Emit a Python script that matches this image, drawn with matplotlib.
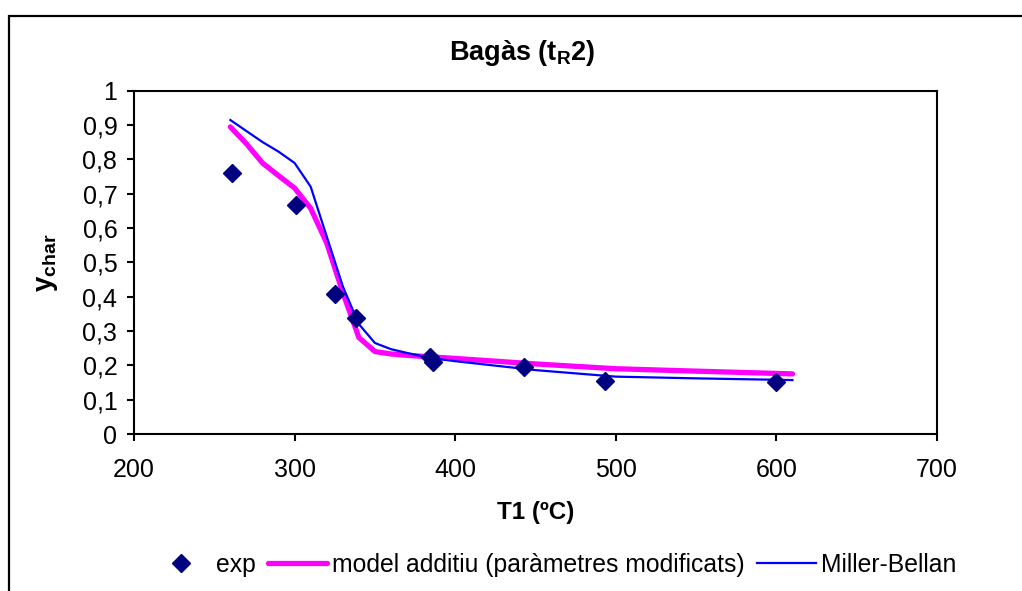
import numpy as np
import matplotlib
matplotlib.use('Agg')
import matplotlib.pyplot as plt
from matplotlib.patches import Rectangle
from matplotlib.ticker import FuncFormatter

plt.rcParams['font.family'] = ['Liberation Sans', 'DejaVu Sans']
plt.rcParams['mathtext.fontset'] = 'custom'
plt.rcParams['mathtext.rm'] = 'Liberation Sans'
plt.rcParams['mathtext.bf'] = 'Liberation Sans:bold'

# ---- data ----
T_exp = [261, 301, 325, 338, 384, 386, 443, 493, 600]
y_exp = [0.760, 0.667, 0.408, 0.338, 0.224, 0.210, 0.195, 0.154, 0.151]

T_add = [260, 270, 280, 290, 300, 310, 320, 330, 340, 350, 360, 370, 380,
         400, 450, 500, 550, 610]
y_add = [0.894, 0.845, 0.789, 0.752, 0.716, 0.657, 0.556, 0.412, 0.281,
         0.240, 0.233, 0.229, 0.226, 0.220, 0.204, 0.190, 0.183, 0.175]

T_mb = [260, 270, 280, 290, 300, 310, 320, 330, 340, 350, 360, 370, 380,
        390, 400, 450, 500, 550, 610]
y_mb = [0.914, 0.882, 0.850, 0.822, 0.789, 0.720, 0.575, 0.430, 0.320,
        0.265, 0.247, 0.236, 0.226, 0.218, 0.212, 0.186, 0.167, 0.162, 0.157]

W, H = 1022, 591
fig = plt.figure(figsize=(W / 100, H / 100), dpi=100)
fig.patch.set_facecolor('white')

# outer chart frame (cut off at right and bottom)
fig.add_artist(Rectangle((9 / W, -0.05), 1.1, (H - 16) / H + 0.05,
                         transform=fig.transFigure, fill=False,
                         edgecolor='black', linewidth=1.6, clip_on=False))

ax = fig.add_axes([134 / W, 1 - 434 / H, (937 - 134) / W, (434 - 90.5) / H])

ax.plot(T_exp, y_exp, linestyle='none', marker='D', markersize=9,
        color='#000080', label='exp', zorder=4)
ax.plot(T_add, y_add, color='#FF00FF', linewidth=3.8,
        solid_capstyle='round', label='model additiu (paràmetres modificats)')
ax.plot(T_mb, y_mb, color='#0000FF', linewidth=1.6, label='Miller-Bellan')

ax.set_xlim(200, 700)
ax.set_ylim(0, 1)
ax.set_xticks(range(200, 701, 100))
ax.set_yticks(np.arange(0, 1.01, 0.1))
ax.yaxis.set_major_formatter(FuncFormatter(lambda v, p: f'{round(v, 1):g}'.replace('.', ',')))
ax.tick_params(direction='out', length=5, width=1.5, labelsize=18)
ax.tick_params(axis='x', pad=12)
ax.tick_params(axis='y', pad=7)
for s in ax.spines.values():
    s.set_linewidth(1.5)

ax.set_xlabel('T1 (ºC)', fontsize=17.5, fontweight='bold', labelpad=14)
ax.set_ylabel(r'y$_\mathbf{char}$', fontsize=20, fontweight='bold', labelpad=16)

fig.text(522 / W, 1 - 53 / H, r'Bagàs (t$_\mathbf{R}$2)', fontsize=19.5,
         fontweight='bold', ha='center', va='center')

fig.legend(loc='center', bbox_to_anchor=(554 / W, 1 - 565 / H), ncol=3,
           frameon=False, fontsize=17.8, handlelength=2.4, handletextpad=0.2,
           columnspacing=0.5, borderaxespad=0)

plt.savefig('out.png', dpi=100, facecolor='white')
plt.close()
